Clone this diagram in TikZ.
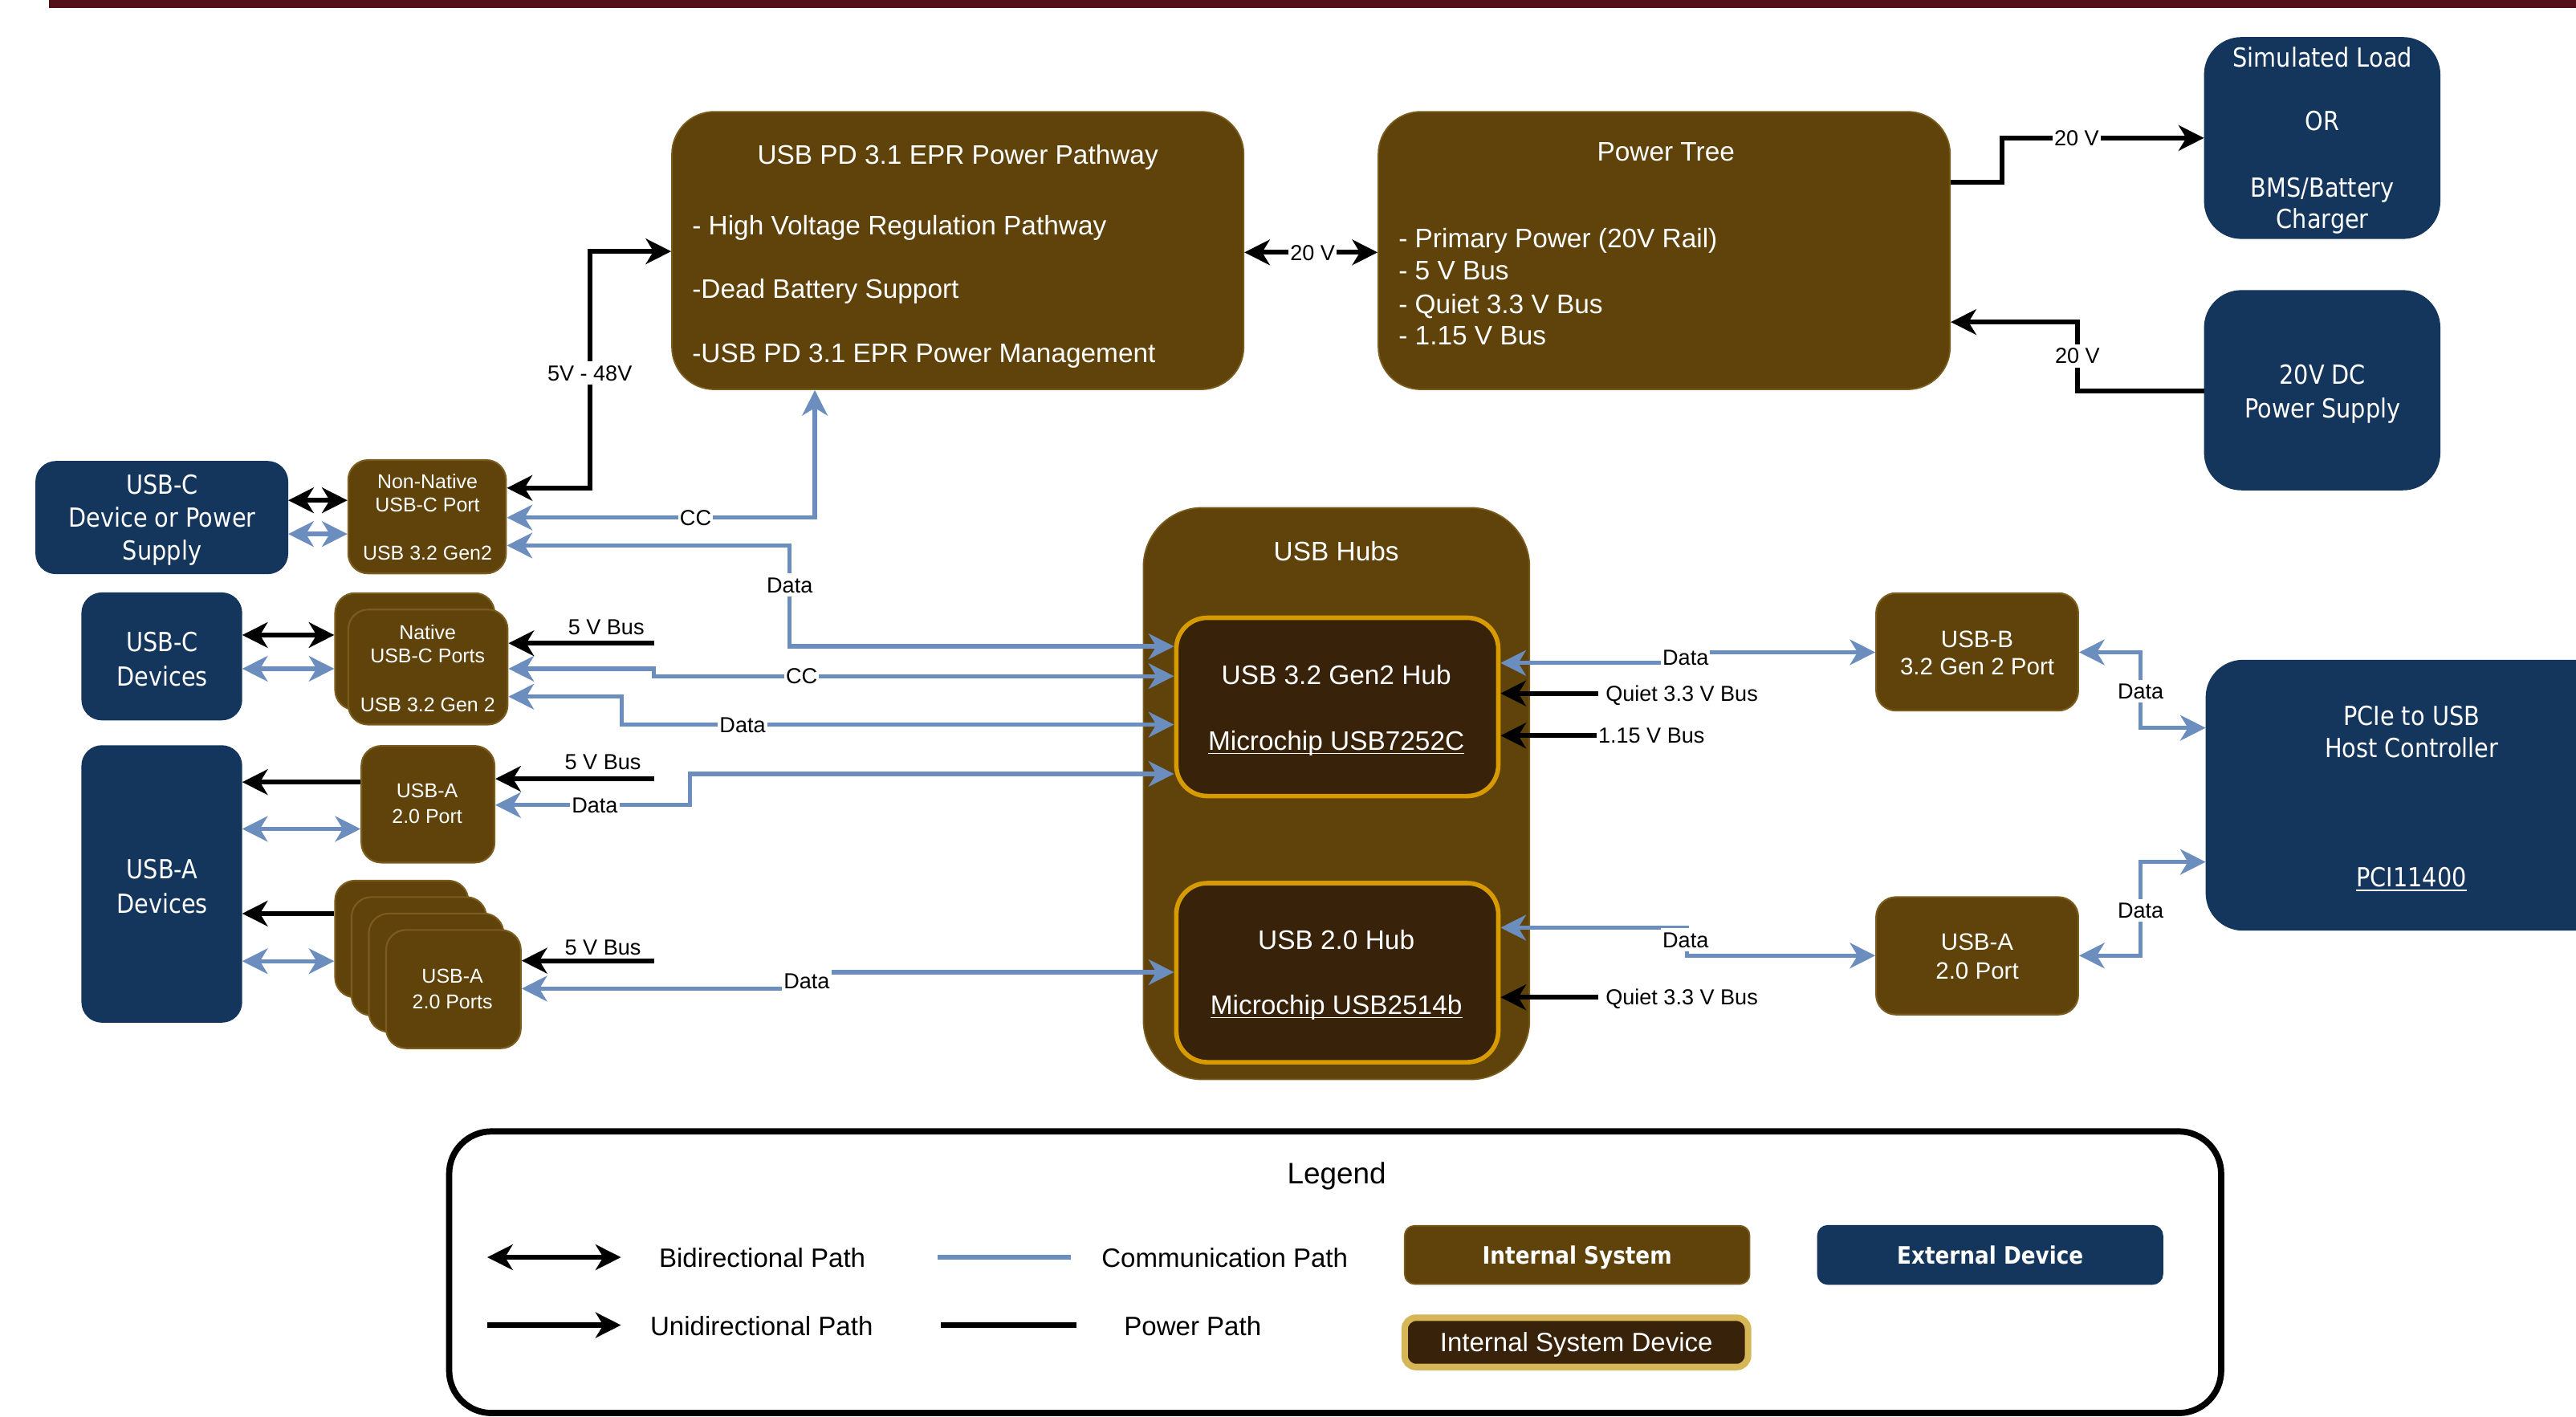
\documentclass[tikz,border=0pt]{standalone}
\usepackage{fontspec}
\setmainfont{Liberation Sans}
\newfontfamily\tah[FakeStretch=0.88]{DejaVu Sans}
\usetikzlibrary{arrows.meta,fit}

\definecolor{brn}{HTML}{5F430A}
\definecolor{brnline}{HTML}{7A5C1E}
\definecolor{navy}{HTML}{14365D}
\definecolor{chipfill}{HTML}{38230A}
\definecolor{chipline}{HTML}{D79B00}
\definecolor{gold}{HTML}{D6B656}
\definecolor{comm}{HTML}{6C8EBF}
\definecolor{topbar}{HTML}{521118}

% box from two corners: style, name, x1, y1, x2, y2
\newcommand{\bx}[6]{\node[#1, fit={(#3,#4) (#5,#6)}, inner sep=0pt] (#2) {};}
% underline sitting just below the baseline
\newcommand{\ulx}[1]{\setbox0\hbox{#1}\rlap{\rule[-1.4pt]{\wd0}{0.5pt}}\box0}

\begin{document}
\begin{tikzpicture}[x=0.020466cm, y=-0.020466cm,
  >={Stealth[length=9pt,width=9pt,inset=2.7pt]},
  bigbrown/.style={fill=brn, draw=brnline, line width=0.5pt, rounded corners=15pt},
  portbox/.style={fill=brn, draw=brnline, line width=0.6pt, rounded corners=7pt},
  navybox/.style={fill=navy, draw=navy, line width=0.5pt, rounded corners=7pt},
  navybig/.style={fill=navy, draw=navy, line width=0.5pt, rounded corners=13pt},
  hubbox/.style={fill=brn, draw=brnline, line width=0.5pt, rounded corners=21pt},
  chip/.style={fill=chipfill, draw=chipline, line width=1.6pt, rounded corners=11pt},
  pwline/.style={line width=1.75pt, draw=black},
  commline/.style={line width=1.5pt, draw=comm},
  bigtxt/.style={text=white, inner sep=0pt, text height=6.7pt, text depth=0pt, font=\fontsize{9.5}{11}\selectfont},
  smltxt/.style={text=white, inner sep=0pt, text height=5pt, text depth=0pt, font=\fontsize{7.1}{8}\selectfont},
  midtxt/.style={text=white, inner sep=0pt, text height=5.9pt, text depth=0pt, font=\fontsize{8.4}{9.5}\selectfont},
  tahtxt/.style={text=white, inner sep=0pt, text height=6.8pt, text depth=0pt, font=\tah\fontsize{9.3}{11}\selectfont},
  lbl/.style={font=\fontsize{7.7}{9}\selectfont, fill=white, inner xsep=0.6pt, inner ysep=1.3pt, text height=5.5pt, text depth=0pt},
  lbln/.style={font=\fontsize{7.7}{9}\selectfont, inner sep=0.6pt, text height=5.5pt, text depth=0pt},
  legtxt/.style={font=\fontsize{9.4}{11}\selectfont, inner sep=0pt, text height=6.7pt, text depth=0pt},
]
\useasboundingbox (0,0) rectangle (1568,862);

% header rule
\fill[topbar] (30,-5) rectangle (1600,5);

% ---------- blocks ----------
\bx{bigbrown}{pd}{409}{68}{757}{237}
\bx{bigbrown}{ptree}{839}{68}{1187}{237}
\bx{navybig}{simload}{1342}{23}{1485}{145}
\bx{navybig}{dcps}{1342}{177}{1485}{298}
\bx{navybox}{usbcdev}{22}{281}{175}{349}
\bx{portbox}{nonnat}{212}{280}{308}{349}
\bx{navybox}{usbcdevs}{50}{361}{147}{438}
\bx{portbox}{natback}{204}{361}{301}{432}
\bx{portbox}{natfront}{212}{371}{309}{441}
\bx{navybox}{usbadevs}{50}{454}{147}{622}
\bx{portbox}{usbaport}{220}{454}{301}{525}
\bx{portbox}{stack1}{204}{536}{285}{607}
\bx{portbox}{stack2}{214}{546}{296}{618}
\bx{portbox}{stack3}{224.5}{556}{306.5}{628}
\bx{portbox}{stack4}{235}{566}{317}{638}
\bx{hubbox}{hubs}{696}{309}{931}{657}
\bx{chip}{chip32}{716}{376}{912}{484.5}
\bx{chip}{chip20}{716}{537.5}{912}{646.5}
\bx{portbox}{usbb}{1142}{361}{1265}{432.5}
\bx{portbox}{usbaR}{1142}{546}{1265}{617.5}
\bx{navybig}{pcie}{1343}{402}{1640}{566}

% ---------- block texts ----------
\node[bigtxt] (pdT) at (583,94) {USB PD 3.1 EPR Power Pathway};
\node[bigtxt,anchor=west] (pdA) at (421,137) {- High Voltage Regulation Pathway};
\node[bigtxt,anchor=west] (pdB) at (421,176) {-Dead Battery Support};
\node[bigtxt,anchor=west] (pdC) at (421,215) {-USB PD 3.1 EPR Power Management};

\node[bigtxt] (ptT) at (1014,92) {Power Tree};
\node[bigtxt,anchor=west] (ptA) at (851,145) {- Primary Power (20V Rail)};
\node[bigtxt,anchor=west] (ptB) at (851,164.6) {- 5 V Bus};
\node[bigtxt,anchor=west] (ptC) at (851,184.9) {- Quiet 3.3 V Bus};
\node[bigtxt,anchor=west] (ptD) at (851,204.2) {- 1.15 V Bus};

\node[tahtxt] (slA) at (1413.7,34.9) {Simulated Load};
\node[tahtxt] (slB) at (1413.7,73.7) {OR};
\node[tahtxt] (slC) at (1413.7,113.9) {BMS/Battery};
\node[tahtxt] (slD) at (1413.7,133) {Charger};

\node[tahtxt] (dcA) at (1413.7,228) {20V DC};
\node[tahtxt] (dcB) at (1413.7,248.7) {Power Supply};

\node[tahtxt] (ucA) at (98.7,295) {USB-C};
\node[tahtxt] (ucB) at (98.7,315) {Device or Power};
\node[tahtxt] (ucC) at (98.7,335) {Supply};

\node[smltxt] (nnA) at (260.2,292.8) {Non-Native};
\node[smltxt] (nnB) at (260.2,307) {USB-C Port};
\node[smltxt] (nnC) at (260.2,336.5) {USB 3.2 Gen2};

\node[tahtxt] (cdA) at (98.7,390.7) {USB-C};
\node[tahtxt] (cdB) at (98.7,411.5) {Devices};

\node[smltxt] (naA) at (260.3,385) {Native};
\node[smltxt] (naB) at (260.3,399) {USB-C Ports};
\node[smltxt] (naC) at (260.3,429) {USB 3.2 Gen 2};

\node[tahtxt] (adA) at (98.7,529) {USB-A};
\node[tahtxt] (adB) at (98.7,550) {Devices};

\node[smltxt] (apA) at (260,481.3) {USB-A};
\node[smltxt] (apB) at (260,496.7) {2.0 Port};

\node[smltxt] (spA) at (275.4,594) {USB-A};
\node[smltxt] (spB) at (275.4,609.6) {2.0 Ports};

\node[bigtxt] (hbT) at (813.4,335.4) {USB Hubs};
\node[bigtxt] (c3A) at (813.4,411) {USB 3.2 Gen2 Hub};
\node[bigtxt] (c3B) at (813.4,450.8) {\ulx{Microchip USB7252C}};
\node[bigtxt] (c2A) at (813.4,572) {USB 2.0 Hub};
\node[bigtxt] (c2B) at (813.4,611.6) {\ulx{Microchip USB2514b}};

\node[midtxt] (ubA) at (1203.5,388.8) {USB-B};
\node[midtxt] (ubB) at (1203.5,405.8) {3.2 Gen 2 Port};
\node[midtxt] (arA) at (1203.5,573) {USB-A};
\node[midtxt] (arB) at (1203.5,590.7) {2.0 Port};

\node[tahtxt] (pcA) at (1467.9,435.7) {PCIe to USB};
\node[tahtxt] (pcB) at (1467.9,455) {Host Controller};
\node[tahtxt] (pcC) at (1467.9,533.9) {\ulx{PCI11400}};

% ---------- power paths ----------
\draw[pwline,<->] (nonnat.east |- 0,297) -- (359,297) -- (359,153) -- (pd.west |- 0,153);
\node[lbl] (l48) at (359,227) {5V - 48V};
\draw[pwline,<->] (pd.east |- 0,153.6) -- (ptree.west |- 0,153.6);
\node[lbl] (l20a) at (799,153.6) {20 V};
\draw[pwline,->] (ptree.east |- 0,111) -- (1218.6,111) -- (1218.6,84) -- (simload.west |- 0,84);
\node[lbl] (l20b) at (1264,84) {20 V};
\draw[pwline,->] (dcps.west |- 0,238) -- (1264.5,238) -- (1264.5,196) -- (ptree.east |- 0,196);
\node[lbl] (l20c) at (1264.5,216.6) {20 V};

\draw[pwline,<->] (usbcdev.east |- 0,304.5) -- (nonnat.west |- 0,304.5);
\draw[pwline,<->] (usbcdevs.east |- 0,386.5) -- (natback.west |- 0,386.5);
\draw[pwline,->] (usbaport.west |- 0,476) -- (usbadevs.east |- 0,476);
\draw[pwline,->] (stack1.west |- 0,556) -- (usbadevs.east |- 0,556);

\coordinate (b5a) at (398,391.5);
\draw[pwline,->] (b5a) -- (natfront.east |- b5a);
\node[lbln] (l5a) at (369,381.6) {5 V Bus};
\coordinate (b5b) at (398,474);
\draw[pwline,->] (b5b) -- (usbaport.east |- b5b);
\node[lbln] (l5b) at (367,463.6) {5 V Bus};
\coordinate (b5c) at (398,584.7);
\draw[pwline,->] (b5c) -- (stack4.east |- b5c);
\node[lbln] (l5c) at (367,576.6) {5 V Bus};

\coordinate (q1) at (973,422);
\draw[pwline,->] (q1) -- (chip32.east |- q1);
\node[lbln,anchor=west] (lq1) at (976,422) {Quiet 3.3 V Bus};
\coordinate (q2) at (972,447.7);
\draw[pwline,->] (q2) -- (chip32.east |- q2);
\node[lbln,anchor=west] (lq2) at (971.5,447.7) {1.15 V Bus};
\coordinate (q3) at (973,607);
\draw[pwline,->] (q3) -- (chip20.east |- q3);
\node[lbln,anchor=west] (lq3) at (976,607) {Quiet 3.3 V Bus};

% ---------- communication paths ----------
\draw[commline,<->] (usbcdev.east |- 0,325) -- (nonnat.west |- 0,325);
\draw[commline,<->] (usbcdevs.east |- 0,407) -- (natback.west |- 0,407);
\draw[commline,<->] (usbadevs.east |- 0,504.5) -- (usbaport.west |- 0,504.5);
\draw[commline,<->] (usbadevs.east |- 0,585) -- (stack1.west |- 0,585);

\draw[commline,<->] (nonnat.east |- 0,315) -- (496,315) -- (pd.south -| 496,0);
\node[lbl] (lcc1) at (423.4,315) {CC};
\draw[commline,<->] (nonnat.east |- 0,332) -- (480.7,332) -- (480.7,393.4) -- (chip32.west |- 0,393.4);
\node[lbl] (ld1) at (480.7,356) {Data};
\draw[commline,<->] (natfront.east |- 0,407) -- (398,407) -- (398,411.5) -- (chip32.west |- 0,411.5);
\node[lbl] (lcc2) at (488,411.5) {CC};
\draw[commline,<->] (natfront.east |- 0,424) -- (378.6,424) -- (378.6,441) -- (chip32.west |- 0,441);
\node[lbl] (ld2) at (452,441) {Data};
\draw[commline,<->] (usbaport.east |- 0,490) -- (420,490) -- (420,471) -- (chip32.west |- 0,471);
\node[lbl] (ld3) at (362,490) {Data};
\draw[commline,<->] (stack4.east |- 0,601.7) -- (491,601.7) -- (491,591.7) -- (chip20.west |- 0,591.7);
\node[lbl] (ld4) at (491,597) {Data};

\draw[commline,<->] (chip32.east |- 0,403.5) -- (1026,403.5) -- (1026,397) -- (usbb.west |- 0,397);
\node[lbl] (ld5) at (1026,400) {Data};
\draw[commline,<->] (usbb.east |- 0,397) -- (1303,397) -- (1303,443) -- (pcie.west |- 0,443);
\node[lbl] (ld6) at (1303,420.7) {Data};
\draw[commline,<->] (chip20.east |- 0,564.6) -- (1027,564.6) -- (1027,581.6) -- (usbaR.west |- 0,581.6);
\node[lbl] (ld7) at (1026,572) {Data};
\draw[commline,<->] (usbaR.east |- 0,581.6) -- (1303,581.6) -- (1303,524.6) -- (pcie.west |- 0,524.6);
\node[lbl] (ld8) at (1303,554) {Data};

% ---------- legend ----------
\bx{draw=black, line width=2.2pt, rounded corners=15pt}{legframe}{273.4}{688.6}{1352}{860}
\node[font=\fontsize{10.5}{12}\selectfont, inner sep=0pt, text height=7.5pt, text depth=0pt] (legT) at (813.6,714) {Legend};

\coordinate (la1) at (296.6,765.2); \coordinate (la2) at (378,765.2);
\draw[pwline,<->] (la1) -- (la2);
\node[legtxt] (lgA) at (464,765.5) {Bidirectional Path};
\coordinate (lb1) at (296.6,806.5); \coordinate (lb2) at (378,806.5);
\draw[pwline,->] (lb1) -- (lb2);
\node[legtxt] (lgB) at (463.6,807) {Unidirectional Path};
\coordinate (lc1) at (570.6,765.2); \coordinate (lc2) at (652,765.2);
\draw[commline, line width=1.75pt] (lc1) -- (lc2);
\node[legtxt] (lgC) at (745.5,765.5) {Communication Path};
\coordinate (ld1a) at (572.7,806.5); \coordinate (ld2a) at (655,806.5);
\draw[pwline] (ld1a) -- (ld2a);
\node[legtxt] (lgD) at (726,807) {Power Path};

\bx{fill=brn, draw=brnline, line width=0.5pt, rounded corners=3.5pt}{legIS}{855}{746}{1065}{781.5}
\node[text=white, inner sep=0pt, text height=6.2pt, text depth=0pt, font=\tah\bfseries\fontsize{8.5}{10}\selectfont] (legISt) at (960,764) {Internal System};
\bx{fill=chipfill, draw=gold, line width=2.3pt, rounded corners=4pt}{legISD}{855}{802}{1064}{832}
\node[text=white, inner sep=0pt, text height=6.7pt, text depth=0pt, font=\fontsize{9.4}{11}\selectfont] (legISDt) at (959.5,817) {Internal System Device};
\bx{fill=navy, draw=navy, line width=0.5pt, rounded corners=3.5pt}{legED}{1106.5}{746}{1316.3}{781.5}
\node[text=white, inner sep=0pt, text height=6.2pt, text depth=0pt, font=\tah\bfseries\fontsize{8.5}{10}\selectfont] (legEDt) at (1211.4,764) {External Device};
\end{tikzpicture}
\end{document}
